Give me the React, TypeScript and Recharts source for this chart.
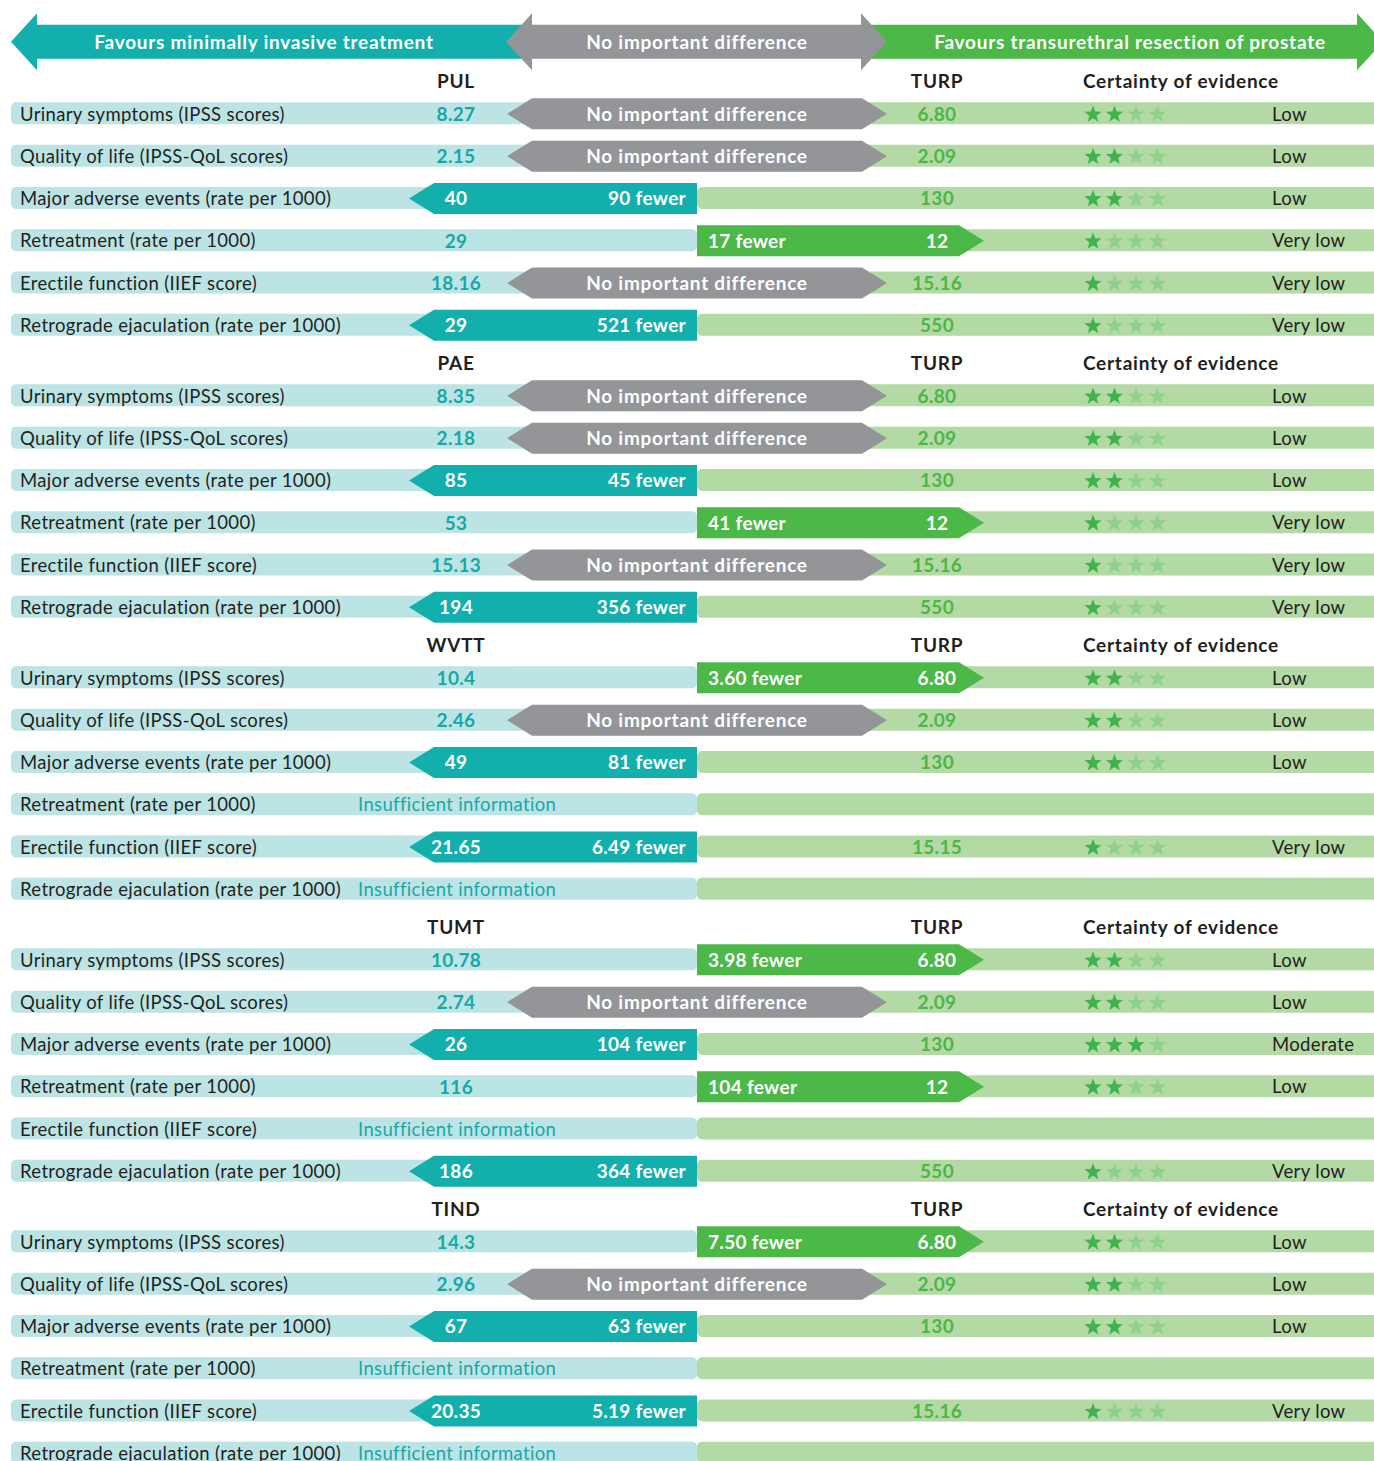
import { ComposedChart, Bar, Scatter, XAxis, YAxis } from 'recharts';

const WIDTH = 1374;
const HEIGHT = 1461;
const FONT = 'Lato, "Open Sans", sans-serif';

// treatments compared against TURP, one block each
const groups = ['PUL', 'PAE', 'WVTT', 'TUMT', 'TIND'];

const outcomes = [
  'Urinary symptoms (IPSS scores)',
  'Quality of life (IPSS-QoL scores)',
  'Major adverse events (rate per 1000)',
  'Retreatment (rate per 1000)',
  'Erectile function (IIEF score)',
  'Retrograde ejaculation (rate per 1000)',
];

// value with the minimally invasive treatment (null = insufficient information)
const mitValues = [
  ['8.27', '2.15', '40', '29', '18.16', '29'],
  ['8.35', '2.18', '85', '53', '15.13', '194'],
  ['10.4', '2.46', '49', null, '21.65', null],
  ['10.78', '2.74', '26', '116', null, '186'],
  ['14.3', '2.96', '67', null, '20.35', null],
];

// value with TURP
const turpValues = [
  ['6.80', '2.09', '130', '12', '15.16', '550'],
  ['6.80', '2.09', '130', '12', '15.16', '550'],
  ['6.80', '2.09', '130', null, '15.15', null],
  ['6.80', '2.09', '130', '12', null, '550'],
  ['6.80', '2.09', '130', null, '15.16', null],
];

// m = favours minimally invasive, t = favours TURP, n = no important difference, i = insufficient information
const verdicts = [
  ['n', 'n', 'm', 't', 'n', 'm'],
  ['n', 'n', 'm', 't', 'n', 'm'],
  ['t', 'n', 'm', 'i', 'm', 'i'],
  ['t', 'n', 'm', 't', 'i', 'm'],
  ['t', 'n', 'm', 'i', 'm', 'i'],
];

const differences = [
  [null, null, '90 fewer', '17 fewer', null, '521 fewer'],
  [null, null, '45 fewer', '41 fewer', null, '356 fewer'],
  ['3.60 fewer', null, '81 fewer', null, '6.49 fewer', null],
  ['3.98 fewer', null, '104 fewer', '104 fewer', null, '364 fewer'],
  ['7.50 fewer', null, '63 fewer', null, '5.19 fewer', null],
];

// GRADE stars out of 4
const certaintyStars = [
  [2, 2, 2, 1, 1, 1],
  [2, 2, 2, 1, 1, 1],
  [2, 2, 2, 0, 1, 0],
  [2, 2, 3, 2, 0, 1],
  [2, 2, 2, 0, 1, 0],
];
const certaintyLabels = ['', 'Very low', 'Low', 'Moderate', 'High'];

const bannerLabels = [
  'Favours minimally invasive treatment',
  'No important difference',
  'Favours transurethral resection of prostate',
];

const C = {
  teal: '#13afac',
  tealLight: '#bde4e5',
  tealText: '#17a8a6',
  gray: '#939598',
  green: '#4bb848',
  greenLight: '#b3d9a5',
  greenText: '#4cb648',
  starOn: '#3fb34d',
  starOff: '#8fd18b',
  ink: '#231f20',
  white: '#ffffff',
};

// horizontal layout, in the x axis units (0..WIDTH)
const X = {
  rowStart: 11,
  split: 697,
  rowEnd: 1384,
  label: 20,
  mitCol: 456,
  insufficient: 358,
  turpCol: 937,
  stars: 1083,
  certainty: 1272,
  mitTip: 409,
  turpTip: 984,
  noneL: 507,
  noneR: 887,
  diffMitEnd: 686,
  diffTurpStart: 708,
  bannerMit: [11, 522],
  bannerNone: [506, 887],
  bannerTurp: [872, 1383],
  bannerText: [264, 697, 1130],
};

// vertical layout, in the y axis units (0..HEIGHT)
const BANNER_Y = 42;
const FIRST_ROW_Y = 113.5;
const ROW_STEP = 42.3;
const GROUP_STEP = 282;
const HEADER_ABOVE = 32.5;
const rowPos = (g: number, r: number) => FIRST_ROW_Y + g * GROUP_STEP + r * ROW_STEP;

const HEAD = 25;
const BANNER_HEAD_EXTRA = 11.5;

type Verdict = 'm' | 't' | 'n' | 'i';

const rows = groups.flatMap((group, gi) =>
  outcomes.map((outcome, oi) => ({
    kind: 'row',
    group,
    outcome,
    pos: rowPos(gi, oi),
    verdict: verdicts[gi][oi] as Verdict,
    mit: mitValues[gi][oi],
    turp: turpValues[gi][oi],
    diff: differences[gi][oi],
    stars: certaintyStars[gi][oi],
    certainty: certaintyLabels[certaintyStars[gi][oi]],
  }))
);

const chartData: any[] = [{ kind: 'banner', pos: BANNER_Y }, ...rows];

const arrowSpan = (v: Verdict) =>
  v === 'm' ? [X.mitTip, X.split] : v === 't' ? [X.split, X.turpTip] : v === 'n' ? [X.noneL, X.noneR] : null;

// text points for scatter series
const labelPoints = rows.map((r) => ({ ...r, x: X.label, text: r.outcome }));
const mitPoints = rows.filter((r) => r.mit).map((r) => ({ ...r, x: X.mitCol, text: r.mit }));
const turpPoints = rows.filter((r) => r.turp).map((r) => ({ ...r, x: X.turpCol, text: r.turp }));
const diffPoints = rows
  .filter((r) => r.verdict !== 'i')
  .map((r) => ({
    ...r,
    x: r.verdict === 'm' ? X.diffMitEnd : r.verdict === 't' ? X.diffTurpStart : X.split,
    text: r.verdict === 'n' ? 'No important difference' : r.diff,
  }));
const insufficientPoints = rows
  .filter((r) => r.verdict === 'i')
  .map((r) => ({ ...r, x: X.insufficient, text: 'Insufficient information' }));
const starPoints = rows.filter((r) => r.stars > 0).map((r) => ({ ...r, x: X.stars }));
const certaintyPoints = rows.filter((r) => r.stars > 0).map((r) => ({ ...r, x: X.certainty, text: r.certainty }));
const headerPoints = groups.flatMap((g, gi) => {
  const pos = rowPos(gi, 0) - HEADER_ABOVE;
  return [
    { pos, x: X.mitCol, text: g, anchor: 'middle' },
    { pos, x: X.turpCol, text: 'TURP', anchor: 'middle' },
    { pos, x: X.stars, text: 'Certainty of evidence', anchor: 'start' },
  ];
});
const bannerPoints = bannerLabels.map((text, i) => ({ pos: BANNER_Y, x: X.bannerText[i], text }));

const pts = (list: number[][]) => list.map((p) => p.join(',')).join(' ');

const bgShape = (fill: string) => (p: any) => {
  if (!p.payload || p.payload.kind !== 'row' || !(p.width > 0)) return null;
  return <rect x={p.x} y={p.y} width={p.width} height={p.height} rx={5} ry={5} fill={fill} />;
};

const ArrowShape = (p: any) => {
  const { x, y, width, height, payload } = p;
  if (!payload || payload.kind !== 'row' || !(width > 0)) return null;
  const v = payload.verdict;
  const mid = y + height / 2;
  const b = y + height;
  const r = x + width;
  if (v === 'm')
    return <polygon points={pts([[x, mid], [x + HEAD, y], [r, y], [r, b], [x + HEAD, b]])} fill={C.teal} />;
  if (v === 't')
    return <polygon points={pts([[x, y], [r - HEAD, y], [r, mid], [r - HEAD, b], [x, b]])} fill={C.green} />;
  if (v === 'n')
    return (
      <polygon
        points={pts([[x, mid], [x + HEAD, y], [r - HEAD, y], [r, mid], [r - HEAD, b], [x + HEAD, b]])}
        fill={C.gray}
      />
    );
  return null;
};

// banner arrows: shaft is the bar, heads stick out above and below it
const bannerShape = (side: 'left' | 'both' | 'right') => (p: any) => {
  const { x, y, width, height, payload } = p;
  if (!payload || payload.kind !== 'banner' || !(width > 0)) return null;
  const mid = y + height / 2;
  const b = y + height;
  const r = x + width;
  const t2 = y - BANNER_HEAD_EXTRA;
  const b2 = b + BANNER_HEAD_EXTRA;
  const h = HEAD + 1;
  const leftHead = [[x + h, b], [x + h, b2], [x, mid], [x + h, t2], [x + h, y]];
  const rightHead = [[r - h, y], [r - h, t2], [r, mid], [r - h, b2], [r - h, b]];
  if (side === 'left') return <polygon points={pts([...leftHead, [r, y], [r, b]])} fill={C.teal} />;
  if (side === 'right') return <polygon points={pts([[x, y], ...rightHead, [x, b]])} fill={C.green} />;
  return <polygon points={pts([...leftHead, ...rightHead])} fill={C.gray} />;
};

const textMark =
  (opts: { anchor?: string; fill: string | ((d: any) => string); bold?: boolean; tight?: boolean }) =>
  (p: any) => {
    const d = p.payload;
    const fill = typeof opts.fill === 'function' ? opts.fill(d) : opts.fill;
    const spacing = opts.bold ? (opts.tight ? 0.3 : 0.75) : 0.35;
    return (
      <text
        x={p.cx}
        y={p.cy}
        dy="0.38em"
        textAnchor={d.anchor || opts.anchor || 'start'}
        fill={fill}
        fontFamily={FONT}
        fontSize={opts.bold ? 19 : 18.5}
        fontWeight={opts.bold ? 700 : 400}
        letterSpacing={spacing}
      >
        {d.text}
      </text>
    );
  };

const diffMark = (p: any) => {
  const d = p.payload;
  const anchor = d.verdict === 'm' ? 'end' : d.verdict === 't' ? 'start' : 'middle';
  return textMark({ anchor, fill: C.white, bold: true, tight: d.verdict !== 'n' })({
    ...p,
    payload: { ...d, anchor },
  });
};

const STAR_R = 9;
const STAR_STEP = 21.5;
const starPolygon = (cx: number, cy: number, R: number) => {
  const inner = R * 0.42;
  const list: number[][] = [];
  for (let i = 0; i < 10; i++) {
    const rad = i % 2 === 0 ? R : inner;
    const a = -Math.PI / 2 + (i * Math.PI) / 5;
    list.push([cx + rad * Math.cos(a), cy + 1 + rad * Math.sin(a)]);
  }
  return pts(list);
};

const StarsMark = (p: any) => {
  const n = p.payload.stars;
  return (
    <g>
      {[0, 1, 2, 3].map((i) => (
        <polygon
          key={i}
          points={starPolygon(p.cx + STAR_R + 1 + i * STAR_STEP, p.cy, STAR_R)}
          fill={i < n ? C.starOn : C.starOff}
        />
      ))}
    </g>
  );
};

const Y_IDS = ['txt', 'bgMit', 'bgTurp', 'arrow', 'banMit', 'banTurp', 'banNone'];

export default function App() {
  return (
    <div style={{ width: WIDTH, height: HEIGHT, fontFamily: FONT }}>
      <style>{'body { margin: 0; }'}</style>
      <ComposedChart
        width={WIDTH}
        height={HEIGHT}
        data={chartData}
        layout="vertical"
        margin={{ top: 0, right: 0, bottom: 0, left: 0 }}
      >
        <XAxis type="number" dataKey="x" domain={[0, WIDTH]} allowDataOverflow hide />
        {Y_IDS.map((id) => (
          <YAxis key={id} yAxisId={id} type="number" dataKey="pos" domain={[0, HEIGHT]} allowDataOverflow hide />
        ))}

        <Bar
          yAxisId="banMit"
          dataKey={(d: any) => (d.kind === 'banner' ? X.bannerMit : null)}
          barSize={34}
          shape={bannerShape('left')}
          isAnimationActive={false}
        />
        <Bar
          yAxisId="banTurp"
          dataKey={(d: any) => (d.kind === 'banner' ? X.bannerTurp : null)}
          barSize={34}
          shape={bannerShape('right')}
          isAnimationActive={false}
        />
        <Bar
          yAxisId="banNone"
          dataKey={(d: any) => (d.kind === 'banner' ? X.bannerNone : null)}
          barSize={34}
          shape={bannerShape('both')}
          isAnimationActive={false}
        />

        <Bar
          yAxisId="bgMit"
          dataKey={(d: any) => (d.kind === 'row' ? [X.rowStart, X.split] : null)}
          barSize={22}
          shape={bgShape(C.tealLight)}
          isAnimationActive={false}
        />
        <Bar
          yAxisId="bgTurp"
          dataKey={(d: any) => (d.kind === 'row' ? [X.split, X.rowEnd] : null)}
          barSize={22}
          shape={bgShape(C.greenLight)}
          isAnimationActive={false}
        />
        <Bar
          yAxisId="arrow"
          dataKey={(d: any) => (d.kind === 'row' ? arrowSpan(d.verdict) : null)}
          barSize={31}
          shape={ArrowShape}
          isAnimationActive={false}
        />

        <Scatter yAxisId="txt" data={bannerPoints} shape={textMark({ anchor: 'middle', fill: C.white, bold: true })} isAnimationActive={false} />
        <Scatter yAxisId="txt" data={headerPoints} shape={textMark({ fill: C.ink, bold: true })} isAnimationActive={false} />
        <Scatter yAxisId="txt" data={labelPoints} shape={textMark({ fill: C.ink })} isAnimationActive={false} />
        <Scatter
          yAxisId="txt"
          data={mitPoints}
          shape={textMark({
            anchor: 'middle',
            fill: (d) => (d.verdict === 'm' ? C.white : C.tealText),
            bold: true,
            tight: true,
          })}
          isAnimationActive={false}
        />
        <Scatter yAxisId="txt" data={insufficientPoints} shape={textMark({ fill: C.tealText })} isAnimationActive={false} />
        <Scatter yAxisId="txt" data={diffPoints} shape={diffMark} isAnimationActive={false} />
        <Scatter
          yAxisId="txt"
          data={turpPoints}
          shape={textMark({
            anchor: 'middle',
            fill: (d) => (d.verdict === 't' ? C.white : C.greenText),
            bold: true,
            tight: true,
          })}
          isAnimationActive={false}
        />
        <Scatter yAxisId="txt" data={starPoints} shape={StarsMark} isAnimationActive={false} />
        <Scatter yAxisId="txt" data={certaintyPoints} shape={textMark({ fill: C.ink })} isAnimationActive={false} />
      </ComposedChart>
    </div>
  );
}
